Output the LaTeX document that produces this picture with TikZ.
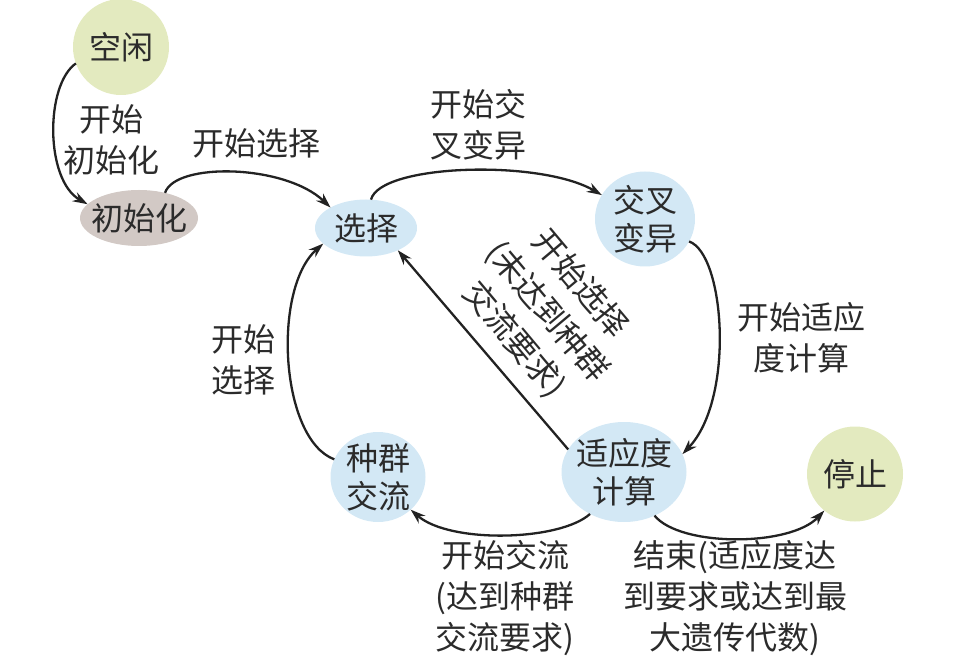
\documentclass[tikz,border=0pt]{standalone}
\usepackage{fontspec}
\setmainfont{Noto Sans CJK SC}
\usetikzlibrary{shapes.geometric,arrows.meta}
\definecolor{yel}{HTML}{E3EABF}
\definecolor{gry}{HTML}{D2C9C5}
\definecolor{blu}{HTML}{D3E8F5}
\definecolor{txt}{HTML}{2B2B2B}
\definecolor{ln}{HTML}{222222}
\begin{document}
\begin{tikzpicture}[x=1pt,y=1pt,
  stt/.style={ellipse, inner sep=0pt, outer sep=0pt},
  ntxt/.style={align=center, text=txt, font=\fontsize{32}{38}\selectfont, inner sep=0pt},
  lbl/.style={align=center, text=txt, font=\fontsize{32}{41}\selectfont, inner sep=0pt},
  conn/.style={draw=ln, line width=2.3pt, -{Stealth[length=15pt,width=10pt]}}
]
\useasboundingbox (0,0) rectangle (957,659);
% states
\node[stt, fill=yel, minimum width=96pt, minimum height=96pt, label={[ntxt]center:空闲}] (idle) at (121,612) {};
\node[stt, fill=gry, minimum width=118pt, minimum height=56pt, label={[ntxt]center:初始化}] (init) at (139,441) {};
\node[stt, fill=blu, minimum width=102pt, minimum height=57pt, label={[ntxt]center:选择}] (sel) at (366,431) {};
\node[stt, fill=blu, minimum width=100pt, minimum height=95pt, label={[ntxt]center:{交叉\\变异}}] (cross) at (645,440) {};
\node[stt, fill=blu, minimum width=125pt, minimum height=100pt, label={[ntxt]center:{适应度\\计算}}] (fit) at (624,187) {};
\node[stt, fill=blu, minimum width=95pt, minimum height=90pt, label={[ntxt]center:{种群\\交流}}] (exch) at (378,182) {};
\node[stt, fill=yel, minimum width=96pt, minimum height=95pt, label={[ntxt]center:停止}] (stop) at (855,185) {};
% connectors
\draw[conn] (idle.200) .. controls (45,574) and (45,479) .. (init.165);
\draw[conn] (init.44) .. controls (175,497) and (285,495) .. (sel.150);
\draw[conn] (sel.80) .. controls (380,495) and (540,500) .. (cross.151);
\draw[conn] (cross.-27) .. controls (725,405) and (735,260) .. (fit.17);
\draw[conn] (fit.158) -- (sel.-35);
\draw[conn] (exch.158) .. controls (280,220) and (272,370) .. (sel.200);
\draw[conn] (fit.231) .. controls (560,118) and (450,115) .. (exch.-45);
\draw[conn] (fit.-55) .. controls (680,112) and (790,112) .. (stop.230);
% labels
\node[lbl] (l1) at (111,519) {开始\\初始化};
\node[lbl] (l2) at (256,516) {开始选择};
\node[lbl] (l3) at (478,534) {开始交\\叉变异};
\node[lbl] (l4) at (801,321) {开始适应\\度计算};
\node[lbl] (l5) at (243,299) {开始\\选择};
\node[lbl, rotate=-50, font=\fontsize{32}{43}\selectfont] (l6) at (547,347) {开始选择\\(未达到种群\\交流要求)};
\node[lbl] (l7) at (505,61) {开始交流\\(达到种群\\交流要求)};
\node[lbl] (l8) at (735,61) {结束(适应度达\\到要求或达到最\\大遗传代数)};
\end{tikzpicture}
\end{document}
